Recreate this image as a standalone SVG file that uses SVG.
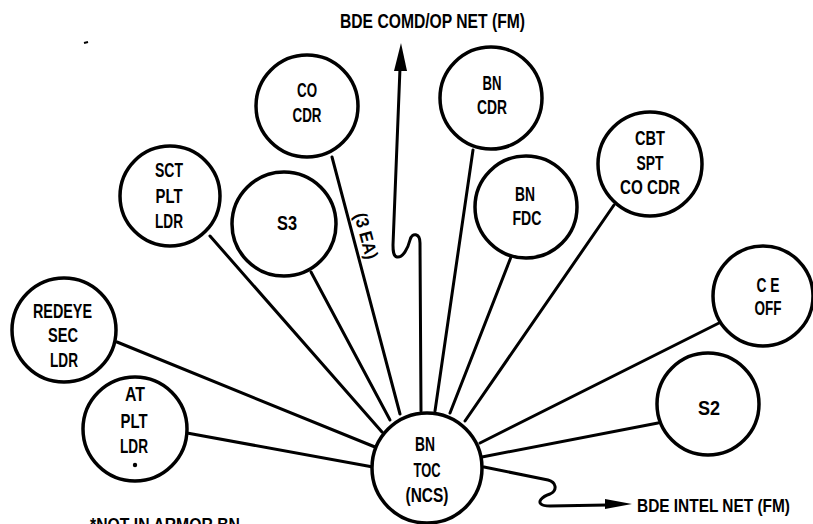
<svg xmlns="http://www.w3.org/2000/svg" width="813" height="524" viewBox="0 0 813 524">
<defs>
<style>
.n{fill:#fff;stroke:#000;stroke-width:3.5}
.c{fill:none;stroke:#000;stroke-width:3;stroke-linecap:round;stroke-linejoin:round}
text{font-family:"Liberation Sans",Arial,sans-serif;font-weight:bold;fill:#000}
.t{font-size:20px;text-anchor:middle}
.h{font-size:18px}
</style>
</defs>
<rect width="813" height="524" fill="#fff"/>
<g id="connectors">
<path class="c" d="M332,157 L400,414"/>
<path class="c" d="M311,272 L390,420"/>
<path class="c" d="M210,236 L382,432"/>
<path class="c" d="M117,342 L375,447"/>
<path class="c" d="M187,433 L373,467"/>
<path class="c" d="M473,150 L435,411"/>
<path class="c" d="M511,257 L450,413"/>
<path class="c" d="M614,205 L465,421"/>
<path class="c" d="M721,322 L480,443"/>
<path class="c" d="M658,423 L482,457"/>
<path class="c" d="M421,411 L420,243 C420,233 412,232 410,240 C408,248 403,258 397,257 C393,256 393,250 393,245 L400,68"/>
<polygon points="401,43 394,71 407,71" fill="#000"/>
<path class="c" d="M484,467 L548,480 C556,482 558,490 550,494 C541,497 538,502 541,504 C543,506 546,506 550,506 L607,505"/>
<polygon points="632,504 605,499 605,509" fill="#000"/>
<text class="h" transform="translate(366,236) rotate(75)" text-anchor="middle" y="6" textLength="47" lengthAdjust="spacingAndGlyphs">(3 EA)</text>
</g>
<g id="title">
<text x="340" y="28" font-size="20" textLength="185" lengthAdjust="spacingAndGlyphs">BDE COMD/OP NET (FM)</text>
</g>
<g id="intel">
<text class="h" x="637" y="512" textLength="153" lengthAdjust="spacingAndGlyphs">BDE INTEL NET (FM)</text>
</g>
<g id="footnote">
<text x="90" y="531" font-size="19" textLength="150" lengthAdjust="spacingAndGlyphs">*NOT IN ARMOR BN</text>
</g>
<g id="co-cdr">
<circle class="n" cx="307" cy="106" r="51"/>
<text class="t" x="307" y="97" textLength="20" lengthAdjust="spacingAndGlyphs">CO</text>
<text class="t" x="307" y="121.5" textLength="29" lengthAdjust="spacingAndGlyphs">CDR</text>
</g>
<g id="bn-cdr">
<circle class="n" cx="491" cy="98" r="51"/>
<text class="t" x="492" y="90" textLength="19" lengthAdjust="spacingAndGlyphs">BN</text>
<text class="t" x="492" y="114" textLength="30" lengthAdjust="spacingAndGlyphs">CDR</text>
</g>
<g id="sct-plt-ldr">
<circle class="n" cx="170" cy="196" r="50"/>
<text class="t" x="169" y="176.5" textLength="28" lengthAdjust="spacingAndGlyphs">SCT</text>
<text class="t" x="169" y="202.5" textLength="27" lengthAdjust="spacingAndGlyphs">PLT</text>
<text class="t" x="169" y="227.5" textLength="28" lengthAdjust="spacingAndGlyphs">LDR</text>
</g>
<g id="s3">
<circle class="n" cx="284" cy="224" r="52"/>
<text class="t" x="287" y="230" textLength="20" lengthAdjust="spacingAndGlyphs">S3</text>
</g>
<g id="bn-fdc">
<circle class="n" cx="526" cy="207" r="51"/>
<text class="t" x="525" y="201" textLength="20" lengthAdjust="spacingAndGlyphs">BN</text>
<text class="t" x="527" y="225" textLength="29" lengthAdjust="spacingAndGlyphs">FDC</text>
</g>
<g id="cbt-spt-co-cdr">
<circle class="n" cx="650" cy="164" r="52"/>
<text class="t" x="650" y="144.5" textLength="30" lengthAdjust="spacingAndGlyphs">CBT</text>
<text class="t" x="650" y="169.5" textLength="27" lengthAdjust="spacingAndGlyphs">SPT</text>
<text class="t" x="650" y="194" textLength="60" lengthAdjust="spacingAndGlyphs">CO CDR</text>
</g>
<g id="ce-off">
<circle class="n" cx="763" cy="296" r="50"/>
<text class="t" x="768" y="291.5" textLength="23" lengthAdjust="spacingAndGlyphs">C E</text>
<text class="t" x="768" y="315" textLength="27" lengthAdjust="spacingAndGlyphs">OFF</text>
</g>
<g id="redeye-sec-ldr">
<circle class="n" cx="64" cy="330" r="52"/>
<text class="t" x="62.5" y="317.5" textLength="59" lengthAdjust="spacingAndGlyphs">REDEYE</text>
<text class="t" x="63" y="342" textLength="30" lengthAdjust="spacingAndGlyphs">SEC</text>
<text class="t" x="64" y="366.5" textLength="28" lengthAdjust="spacingAndGlyphs">LDR</text>
</g>
<g id="at-plt-ldr">
<circle class="n" cx="135" cy="429" r="52"/>
<text class="t" x="135" y="400.5" textLength="20" lengthAdjust="spacingAndGlyphs">AT</text>
<text class="t" x="134" y="427.5" textLength="27" lengthAdjust="spacingAndGlyphs">PLT</text>
<text class="t" x="134" y="452.5" textLength="28" lengthAdjust="spacingAndGlyphs">LDR</text>
<circle cx="135" cy="465" r="2.2" fill="#000"/>
</g>
<g id="s2">
<circle class="n" cx="708" cy="404" r="51"/>
<text class="t" x="709" y="415" textLength="22" lengthAdjust="spacingAndGlyphs">S2</text>
</g>
<g id="bn-toc">
<circle class="n" cx="427" cy="468" r="55"/>
<text class="t" x="425" y="450.5" textLength="20" lengthAdjust="spacingAndGlyphs">BN</text>
<text class="t" x="427" y="477" textLength="27" lengthAdjust="spacingAndGlyphs">TOC</text>
<text class="t" x="427" y="501.5" textLength="43" lengthAdjust="spacingAndGlyphs">(NCS)</text>
</g>
<path d="M84,43 L88,42" stroke="#000" stroke-width="2"/>
</svg>
